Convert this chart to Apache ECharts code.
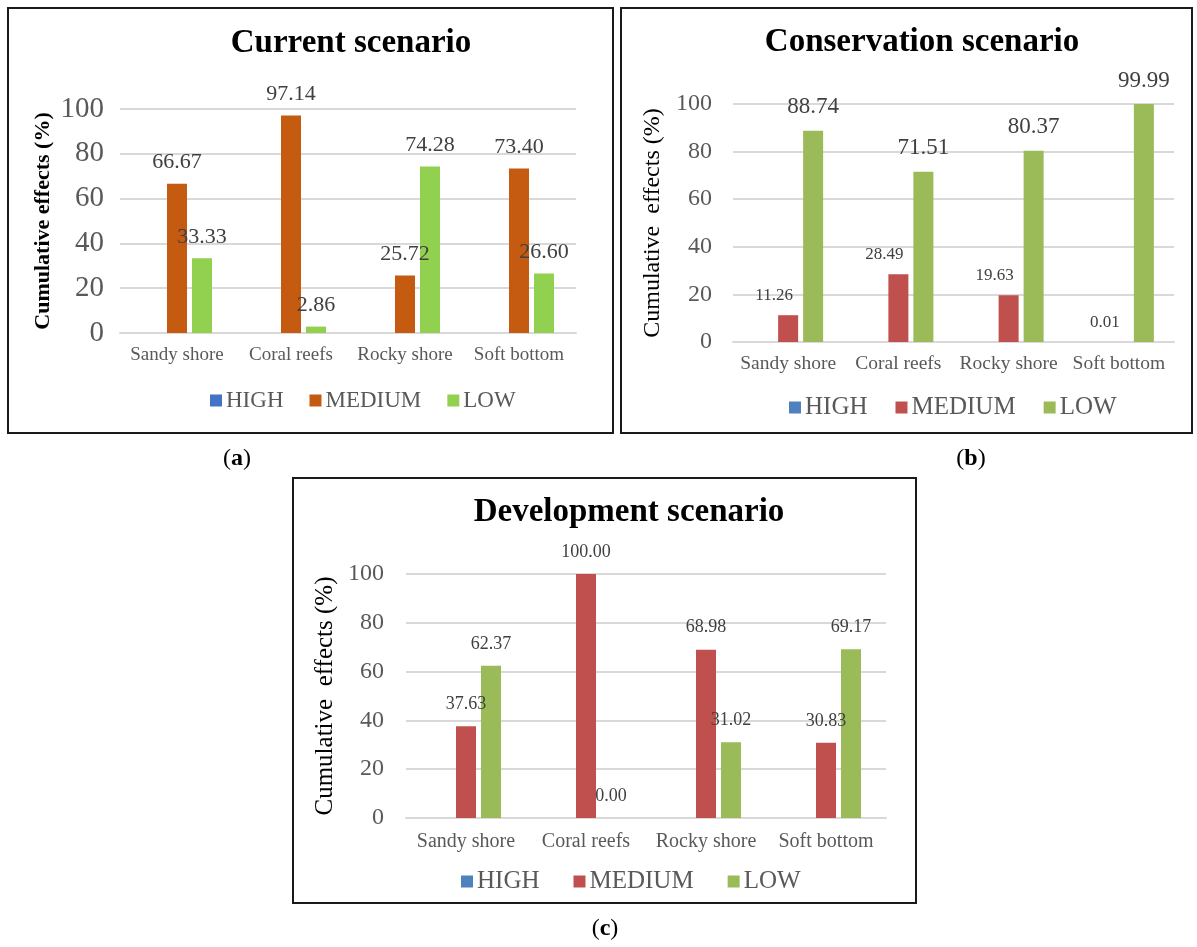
<!DOCTYPE html>
<html>
<head>
<meta charset="utf-8">
<script src="https://cdn.jsdelivr.net/npm/echarts@6/dist/echarts.min.js"></script>
<style>
html,body{margin:0;padding:0;background:#fff;}
#chart{width:1197px;height:947px;}
</style>
</head>
<body>
<div id="chart"></div>
<script>
// ---- data ----
const categories = ['Sandy shore', 'Coral reefs', 'Rocky shore', 'Soft bottom'];
const seriesNames = ['HIGH', 'MEDIUM', 'LOW'];
const yTicks = { min: 0, max: 100, interval: 20 };

const currentHigh = [0, 0, 0, 0];
const currentMedium = [66.67, 97.14, 25.72, 73.40];
const currentLow = [33.33, 2.86, 74.28, 26.60];

const conservationHigh = [0, 0, 0, 0];
const conservationMedium = [11.26, 28.49, 19.63, 0.01];
const conservationLow = [88.74, 71.51, 80.37, 99.99];

const developmentHigh = [0, 0, 0, 0];
const developmentMedium = [37.63, 100.00, 68.98, 30.83];
const developmentLow = [62.37, 0.00, 31.02, 69.17];

const titles = ['Current scenario', 'Conservation scenario', 'Development scenario'];
const yAxisNames = ['Cumulative effects (%)', 'Cumulative  effects (%)', 'Cumulative  effects (%)'];
const panelTags = ['a', 'b', 'c'];

// ---- styling ----
const FONT = "'Liberation Serif', 'Times New Roman', serif";
const GRID_COLOR = '#D9D9D9';
const TEXT_GRAY = '#595959';
const LABEL_GRAY = '#404040';

const panels = [
  {
    grid: { left: 120, right: 621, top: 109, bottom: 614 },
    colors: ['#4472C4', '#C55A11', '#92D050'],
    data: [currentHigh, currentMedium, currentLow],
    tickSize: 29, tickMargin: 16,
    catSize: 19, catMargin: 13,
    nameSize: 22, nameBold: true, nameGap: 66,
    labelSizes: [22, 22], labelDist: [10, 10], labelOffsets: [[0, 0], [0, 0]],
    title: { x: 351, y: 43, size: 33 },
    legend: { left: 205, top: 384, size: 23, gap: 26 },
    box: { x: 8, y: 8, w: 605, h: 425 },
    tag: { x: 237, y: 459 }
  },
  {
    grid: { left: 733, right: 23, top: 104, bottom: 605 },
    colors: ['#4F81BD', '#C0504D', '#9BBB59'],
    data: [conservationHigh, conservationMedium, conservationLow],
    tickSize: 24, tickMargin: 21,
    catSize: 19.5, catMargin: 12,
    nameSize: 24, nameBold: false, nameGap: 68,
    labelSizes: [17, 23], labelDist: [11, 12], labelOffsets: [[-14, 0], [0, 0]],
    title: { x: 922, y: 42, size: 33 },
    legend: { left: 784, top: 390, size: 25, gap: 28 },
    box: { x: 621, y: 8, w: 571, h: 425 },
    tag: { x: 971, y: 459 }
  },
  {
    grid: { left: 406, right: 311, top: 574, bottom: 129 },
    colors: ['#4F81BD', '#C0504D', '#9BBB59'],
    data: [developmentHigh, developmentMedium, developmentLow],
    tickSize: 24, tickMargin: 22,
    catSize: 20, catMargin: 14,
    nameSize: 25, nameBold: false, nameGap: 68,
    labelSizes: [18, 18], labelDist: [13, 13], labelOffsets: [[0, 0], [0, 0]],
    title: { x: 629, y: 512, size: 33 },
    legend: { left: 456, top: 864, size: 25, gap: 34 },
    box: { x: 293, y: 478, w: 623, h: 425 },
    tag: { x: 605, y: 929 }
  }
];

const grids = [], xAxes = [], yAxes = [], series = [], legends = [], graphics = [];

panels.forEach((p, i) => {
  grids.push(Object.assign({ containLabel: false }, p.grid));
  xAxes.push({
    type: 'category', gridIndex: i, data: categories,
    axisLine: { show: true, lineStyle: { color: GRID_COLOR, width: 2 } },
    axisTick: { show: false },
    axisLabel: { color: TEXT_GRAY, fontFamily: FONT, fontSize: p.catSize, margin: p.catMargin, interval: 0 }
  });
  yAxes.push({
    type: 'value', gridIndex: i, min: yTicks.min, max: yTicks.max, interval: yTicks.interval,
    name: yAxisNames[i], nameLocation: 'middle', nameRotate: 90, nameGap: p.nameGap,
    nameTextStyle: { color: '#000', fontFamily: FONT, fontSize: p.nameSize, fontWeight: p.nameBold ? 'bold' : 'normal' },
    axisLine: { show: false }, axisTick: { show: false },
    axisLabel: { color: TEXT_GRAY, fontFamily: FONT, fontSize: p.tickSize, margin: p.tickMargin },
    splitLine: { show: true, lineStyle: { color: GRID_COLOR, width: 2 } }
  });
  seriesNames.forEach((name, s) => {
    const showLabel = s > 0;
    series.push({
      type: 'bar', name: name, xAxisIndex: i, yAxisIndex: i,
      data: p.data[s], barWidth: 20, barGap: '25%',
      itemStyle: { color: p.colors[s] },
      label: showLabel ? {
        show: true, position: 'top',
        distance: p.labelDist[s - 1], offset: p.labelOffsets[s - 1],
        color: LABEL_GRAY, fontFamily: FONT, fontSize: p.labelSizes[s - 1],
        formatter: (d) => d.value.toFixed(2)
      } : { show: false },
      emphasis: { disabled: true }
    });
  });
  legends.push({
    left: p.legend.left, top: p.legend.top, orient: 'horizontal',
    itemWidth: 12, itemHeight: 12, itemGap: p.legend.gap, icon: 'rect',
    textStyle: { color: TEXT_GRAY, fontFamily: FONT, fontSize: p.legend.size, padding: [0, 0, 0, -1] },
    data: seriesNames.map((n, s) => ({ name: n, itemStyle: { color: p.colors[s] } })),
    selectedMode: false
  });
  graphics.push({
    type: 'rect', shape: { x: p.box.x, y: p.box.y, width: p.box.w, height: p.box.h },
    style: { fill: 'none', stroke: '#1a1a1a', lineWidth: 2 }, silent: true, z: 0
  });
  graphics.push({
    type: 'text', x: p.title.x, y: p.title.y,
    style: { text: titles[i], fill: '#000', font: `bold ${p.title.size}px ${FONT}`, align: 'center', verticalAlign: 'middle' },
    silent: true
  });
  graphics.push({
    type: 'text', x: p.tag.x, y: p.tag.y,
    style: {
      text: '{p|(}{b|' + panelTags[i] + '}{p|)}',
      align: 'center', verticalAlign: 'middle',
      rich: {
        p: { fontFamily: FONT, fontSize: 24, fill: '#000', color: '#000' },
        b: { fontFamily: FONT, fontSize: 24, fontWeight: 'bold', fill: '#000', color: '#000' }
      }
    },
    silent: true
  });
});

const chart = echarts.init(document.getElementById('chart'), null, { renderer: 'canvas' });
chart.setOption({
  backgroundColor: '#fff',
  animation: false,
  grid: grids, xAxis: xAxes, yAxis: yAxes, series: series, legend: legends,
  graphic: { elements: graphics }
});
</script>
</body>
</html>
